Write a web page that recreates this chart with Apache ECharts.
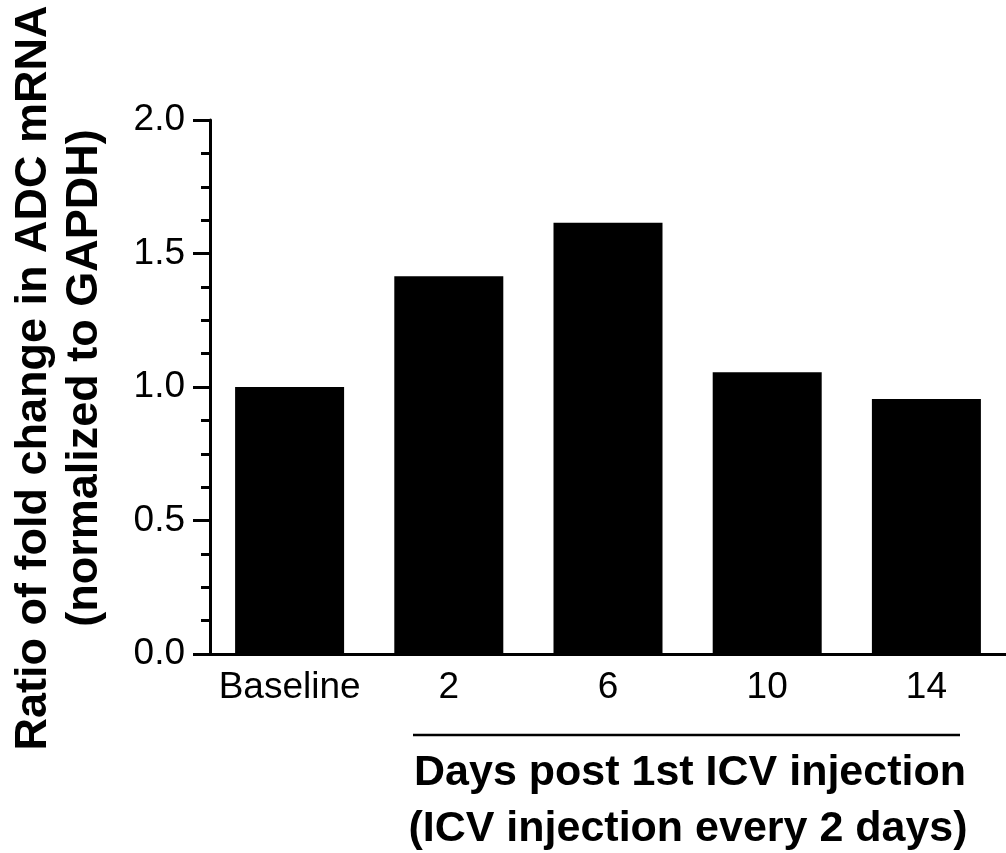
<!DOCTYPE html>
<html>
<head>
<meta charset="utf-8">
<script src="https://cdn.jsdelivr.net/npm/echarts@6/dist/echarts.min.js"></script>
<style>html,body{margin:0;padding:0;background:#fff}#c{width:1006px;height:853px}</style>
</head>
<body>
<div id="c"></div>
<script>
const categories = ['Baseline', '2', '6', '10', '14'];
const foldChange = [1.00, 1.415, 1.615, 1.055, 0.955];
const yTicks = [0, 0.5, 1.0, 1.5, 2.0];
const yTitle = ['Ratio of fold change in ADC mRNA', '(normalized to GAPDH)'];
const xTitle = ['Days post 1st ICV injection', '(ICV injection every 2 days)'];

const FONT = '"Liberation Sans", Arial, sans-serif';
const chart = echarts.init(document.getElementById('c'), null, {renderer: 'canvas'});
chart.setOption({
  animation: false,
  backgroundColor: '#fff',
  grid: {left: 210, top: 120, width: 800, height: 534},
  xAxis: {
    type: 'category',
    data: categories,
    boundaryGap: true,
    axisLine: {lineStyle: {color: '#000', width: 3}},
    axisTick: {show: false},
    axisLabel: {color: '#000', fontSize: 37, fontFamily: FONT, margin: 15, interval: 0}
  },
  yAxis: {
    type: 'value',
    min: yTicks[0],
    max: yTicks[yTicks.length - 1],
    interval: 0.5,
    splitLine: {show: false},
    axisLine: {show: true, lineStyle: {color: '#000', width: 3}},
    axisTick: {show: true, length: 17, lineStyle: {color: '#000', width: 3}},
    minorTick: {show: true, splitNumber: 4, length: 9, lineStyle: {color: '#000', width: 3}},
    axisLabel: {color: '#000', fontSize: 37, fontFamily: FONT, margin: 25,
      formatter: v => v.toFixed(1)}
  },
  series: [{
    type: 'bar',
    data: foldChange,
    barWidth: 109,
    itemStyle: {color: '#000'}
  }],
  graphic: [
    {type: 'text', x: 59, y: 378, rotation: Math.PI / 2,
      style: {text: yTitle.join('\n'), font: 'bold 45px ' + FONT, fill: '#000',
        textAlign: 'center', textVerticalAlign: 'middle', lineHeight: 51}},
    {type: 'line', shape: {x1: 413, y1: 735, x2: 960, y2: 735},
      style: {stroke: '#000', lineWidth: 2.5}},
    {type: 'text', x: 690, y: 773,
      style: {text: xTitle[0], font: 'bold 43px ' + FONT, fill: '#000',
        textAlign: 'center', textVerticalAlign: 'middle'}},
    {type: 'text', x: 688, y: 829,
      style: {text: xTitle[1], font: 'bold 43px ' + FONT, fill: '#000',
        textAlign: 'center', textVerticalAlign: 'middle'}}
  ]
});
</script>
</body>
</html>
